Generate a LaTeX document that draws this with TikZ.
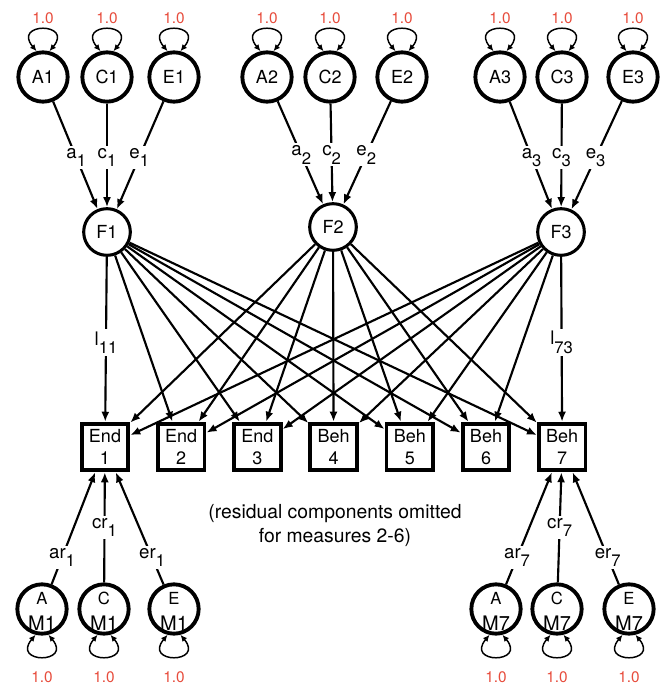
\documentclass[tikz,border=0pt]{standalone}
\usepackage{fontspec}
\setmainfont{TeX Gyre Heros}
\usetikzlibrary{arrows.meta}

\definecolor{unitred}{RGB}{231,76,60}
\newcommand{\sbs}[1]{\raisebox{-6.5pt}{\fontsize{12.5}{14}\selectfont #1}}

\tikzset{
  latent/.style={circle, draw, line width=2.9pt, minimum size=37pt, inner sep=0pt, font=\fontsize{13.5}{16.5}\selectfont, align=center},
  factor/.style={circle, draw, line width=2.3pt, minimum size=35pt, inner sep=0pt, font=\fontsize{13.5}{15}\selectfont},
  measure/.style={rectangle, draw, line width=2.9pt, minimum width=35pt, minimum height=35pt, inner sep=0pt, align=center, font=\fontsize{13.5}{17}\selectfont},
  load/.style={-{Latex[length=7.5pt,width=6pt]}, line width=1.6pt},
  coef/.style={fill=white, inner sep=1.5pt, font=\fontsize{14}{16}\selectfont},
  selfloop/.style={{Latex[length=5pt,width=4.5pt]}-{Latex[length=5pt,width=4.5pt]}, line width=1.1pt},
  unit/.style={text=unitred, inner sep=0pt, font=\fontsize{11.5}{13}\selectfont}
}

\begin{document}
\begin{tikzpicture}[x=0.75pt,y=0.75pt,yscale=-1,xscale=1]
\useasboundingbox (0,0) rectangle (664,684);

% genetic and environmental components of the factors
\foreach \n/\x in {A1/43, C1/107, E1/174, A2/267, C2/330, E2/402, A3/500, C3/562, E3/633} {
  \node[latent] (\n) at (\x,77) {\n};
  \draw[selfloop] (\n.104) .. controls +(-130:38) and +(-50:38) .. (\n.76);
  \node[unit] (v\n) at (\x,18) {1.0};
}

% common factors
\node[factor] (F1) at (107,232) {F1};
\node[factor] (F2) at (333,227) {F2};
\node[factor] (F3) at (561,232) {F3};

\foreach \g in {1,2,3} {
  \draw[load] (A\g) -- node[coef, pos=.52] (la\g) {a\sbs{\g}} (F\g);
  \draw[load] (C\g) -- node[coef, pos=.52] (lc\g) {c\sbs{\g}} (F\g);
  \draw[load] (E\g) -- node[coef, pos=.52] (le\g) {e\sbs{\g}} (F\g);
}

% measures
\foreach \i/\t in {1/End, 2/End, 3/End, 4/Beh, 5/Beh, 6/Beh, 7/Beh}
  \node[measure] (M\i) at ({105+76.2*(\i-1)},447) {\t\\\i};

% factor loadings
\foreach \f in {1,2,3}
  \foreach \i in {1,...,7}
    \draw[load] (F\f) -- (M\i);
\path (F1) -- node[coef, pos=.52] (l11) {l\sbs{11}} (M1);
\path (F3) -- node[coef, pos=.52] (l73) {l\sbs{73}} (M7);

% residual components
\foreach \n/\t/\x/\m in {AM1/A/42/1, CM1/C/104/1, EM1/E/174/1, AM7/A/496/7, CM7/C/557/7, EM7/E/629/7} {
  \node[latent] (\n) at (\x,609) {};
  \node[align=center, inner sep=0pt, font=\fontsize{15}{19.5}\selectfont] (t\n) at (\x,611) {{\fontsize{12.5}{14}\selectfont\t}\\M\m};
  \draw[selfloop] (\n.-104) .. controls +(130:38) and +(50:38) .. (\n.-76);
  \node[unit] (v\n) at (\x,677) {1.0};
}
\foreach \m in {1,7} {
  \draw[load] (AM\m) -- node[coef, pos=.24] (lar\m) {ar\sbs{\m}} (M\m);
  \draw[load] (CM\m) -- node[coef, pos=.5] (lcr\m) {cr\sbs{\m}} (M\m);
  \draw[load] (EM\m) -- node[coef, pos=.24] (ler\m) {er\sbs{\m}} (M\m);
}

% Text Node
\node[align=center, font=\fontsize{14.5}{18}\selectfont] (note) at (335,525) {(residual components omitted\\for measures 2-6)};
\end{tikzpicture}
\end{document}
